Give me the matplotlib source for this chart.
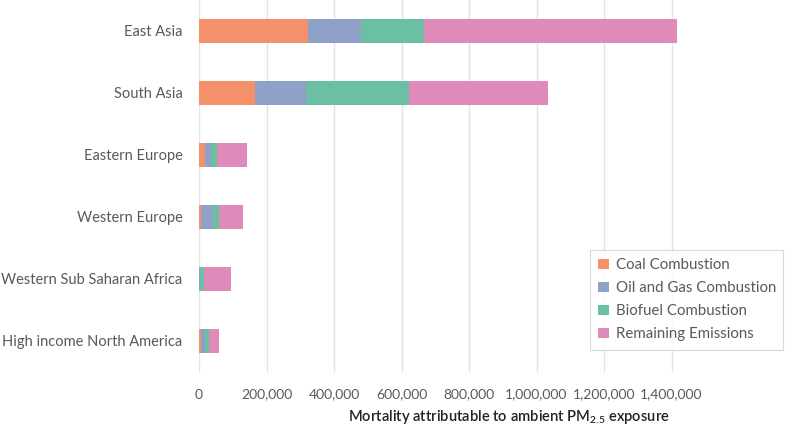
import numpy as np
import matplotlib.pyplot as plt
from matplotlib.ticker import FuncFormatter

regions = ['East Asia', 'South Asia', 'Eastern Europe', 'Western Europe',
           'Western Sub Saharan Africa', 'High income North America']
coal = [322000, 165000, 17000, 7000, 1000, 5000]
oil_gas = [157000, 152000, 18000, 34000, 1000, 14000]
biofuel = [188000, 304000, 18000, 18000, 13000, 10000]
remaining = [750000, 412000, 88000, 72000, 80000, 29000]

series = ['Coal Combustion', 'Oil and Gas Combustion', 'Biofuel Combustion', 'Remaining Emissions']
colors = ['#F4906A', '#8FA0C9', '#6BBFA3', '#DE8BBA']

plt.rcParams['font.family'] = ['Lato', 'DejaVu Sans']
plt.rcParams['mathtext.default'] = 'regular'

fig = plt.figure(figsize=(7.93, 4.26), dpi=100)
ax = fig.add_axes([0.251, 0.127, 0.749, 0.873])

y = np.arange(len(regions))
left = np.zeros(len(regions))
for name, vals, c in zip(series, [coal, oil_gas, biofuel, remaining], colors):
    ax.barh(y, vals, left=left, height=0.4, color=c, label=name, zorder=3)
    left += np.array(vals)

ax.set_ylim(len(regions) - 0.5, -0.5)
ax.set_yticks(y)
ax.set_yticklabels(regions, fontsize=10.5, color='#595959')
ax.set_xlim(0, 1760000)
ax.set_xticks(np.arange(0, 1400001, 200000))
ax.xaxis.set_major_formatter(FuncFormatter(lambda v, p: f'{int(v):,}'))
ax.tick_params(axis='x', labelsize=10, labelcolor='#595959', length=0, pad=12)
ax.tick_params(axis='y', length=0, pad=12)
ax.grid(axis='x', color='#E3E3E3', linewidth=1, zorder=0)
for s in ax.spines.values():
    s.set_visible(False)

ax.set_xlabel('Mortality attributable to ambient PM$_{2.5}$ exposure',
              fontsize=10.6, color='#222222', fontweight='semibold')
ax.xaxis.set_label_coords(0.522, -0.097)

leg = ax.legend(loc='lower left', bbox_to_anchor=(0.646, 0.04, 0.349, 0.283),
                mode='expand', fancybox=False, fontsize=10.8, labelcolor='#595959',
                handlelength=0.7, handleheight=0.7, handletextpad=0.5,
                labelspacing=0.6, borderpad=0.55)
leg.get_frame().set_edgecolor('#D0D0D0')
leg.get_frame().set_linewidth(0.8)

fig.savefig('out.png', dpi=100)
